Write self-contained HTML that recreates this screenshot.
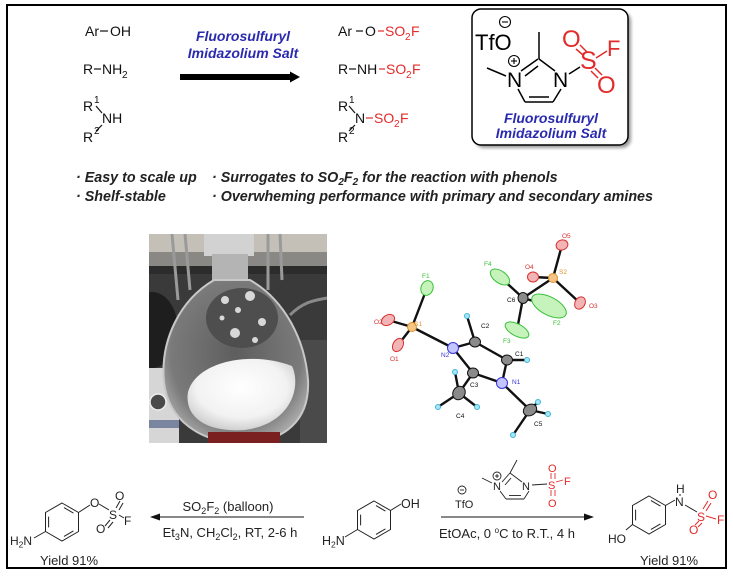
<!DOCTYPE html>
<html><head><meta charset="utf-8">
<style>
html,body{margin:0;padding:0;background:#fff;}
svg{display:block;}
text{font-family:"Liberation Sans",Arial,sans-serif;}
</style></head><body>
<svg width="733" height="577" viewBox="0 0 733 577" xmlns="http://www.w3.org/2000/svg">
<defs>
<clipPath id="ph"><rect x="149" y="234" width="178" height="209"/></clipPath>
<radialGradient id="pw" cx="0.5" cy="0.4" r="0.6"><stop offset="0" stop-color="#ffffff"/><stop offset="0.7" stop-color="#f2f2f2"/><stop offset="1" stop-color="#d0d0d0"/></radialGradient>
<radialGradient id="fl" cx="0.5" cy="0.45" r="0.6"><stop offset="0" stop-color="#5e5e5e"/><stop offset="0.75" stop-color="#7a7a7a"/><stop offset="1" stop-color="#b0b0b0"/></radialGradient>
<filter id="sh" x="-10%" y="-10%" width="120%" height="120%"><feGaussianBlur stdDeviation="1.5"/></filter>
</defs>

<!-- outer frame -->
<rect x="7" y="5" width="719" height="563" fill="#fff" stroke="#000" stroke-width="2"/>

<!-- ===== Top-left reactants ===== -->
<g font-size="14" fill="#111" stroke="none">
  <text x="85" y="36">Ar</text><text x="110" y="36">OH</text>
  <text x="83" y="74">R</text><text x="102" y="74">NH</text><text x="122" y="78" font-size="10">2</text>
  <text x="83" y="111">R</text><text x="94" y="103" font-size="10">1</text>
  <text x="102" y="123">NH</text>
  <text x="83" y="142">R</text><text x="94" y="134" font-size="10">2</text>
</g>
<g stroke="#111" stroke-width="1.2">
  <line x1="100" y1="31" x2="108" y2="31"/>
  <line x1="94" y1="69" x2="101" y2="69"/>
  <line x1="96" y1="106" x2="102" y2="113"/>
  <line x1="102" y1="125" x2="96" y2="131"/>
</g>

<!-- big arrow -->
<rect x="180" y="74" width="112" height="6" fill="#000"/>
<polygon points="290,71.5 300,77 290,82.5" fill="#000"/>
<g font-size="14" font-weight="bold" font-style="italic" fill="#2a2ab0" text-anchor="middle">
  <text x="243" y="41">Fluorosulfuryl</text>
  <text x="243" y="58">Imidazolium Salt</text>
</g>

<!-- ===== Products ===== -->
<g font-size="14" fill="#111">
  <text x="338" y="36">Ar</text><text x="365" y="36">O</text>
  <text x="385" y="36" fill="#e32b2b">SO</text><text x="405" y="40" font-size="10" fill="#e32b2b">2</text><text x="411" y="36" fill="#e32b2b">F</text>

  <text x="338" y="74">R</text><text x="357" y="74">NH</text>
  <text x="386" y="74" fill="#e32b2b">SO</text><text x="406" y="78" font-size="10" fill="#e32b2b">2</text><text x="412" y="74" fill="#e32b2b">F</text>

  <text x="338" y="111">R</text><text x="349" y="103" font-size="10">1</text>
  <text x="355" y="123">N</text>
  <text x="374" y="123" fill="#e32b2b">SO</text><text x="394" y="127" font-size="10" fill="#e32b2b">2</text><text x="400" y="123" fill="#e32b2b">F</text>
  <text x="338" y="142">R</text><text x="349" y="134" font-size="10">2</text>
</g>
<g stroke-width="1.2">
  <line x1="356" y1="31" x2="363" y2="31" stroke="#111"/>
  <line x1="378" y1="31" x2="384" y2="31" stroke="#e32b2b"/>
  <line x1="349" y1="69" x2="356" y2="69" stroke="#111"/>
  <line x1="379" y1="69" x2="385" y2="69" stroke="#e32b2b"/>
  <line x1="349" y1="106" x2="355" y2="113" stroke="#111"/>
  <line x1="355" y1="125" x2="349" y2="131" stroke="#111"/>
  <line x1="366" y1="118" x2="373" y2="118" stroke="#e32b2b"/>
</g>

<!-- ===== Reagent box ===== -->
<rect x="475" y="12" width="156" height="136" rx="9" fill="#9a9a9a" filter="url(#sh)"/>
<rect x="472" y="9" width="156" height="136" rx="9" fill="#fff" stroke="#000" stroke-width="1.5"/>
<text x="475" y="50" font-size="22" fill="#000">TfO</text>
<circle cx="505" cy="22" r="5.5" fill="none" stroke="#000" stroke-width="1.1"/>
<line x1="502" y1="22" x2="508" y2="22" stroke="#000" stroke-width="1.1"/>
<text x="507" y="87" font-size="21" fill="#000">N</text>
<circle cx="514" cy="61" r="5.5" fill="none" stroke="#000" stroke-width="1.1"/>
<line x1="511" y1="61" x2="517" y2="61" stroke="#000" stroke-width="1.1"/>
<line x1="514" y1="58" x2="514" y2="64" stroke="#000" stroke-width="1.1"/>
<text x="553" y="87" font-size="21" fill="#000">N</text>
<g stroke="#000" stroke-width="1.5" fill="none">
  <line x1="487" y1="68" x2="506" y2="76"/>
  <line x1="521" y1="71" x2="538" y2="59"/>
  <line x1="525" y1="76" x2="538" y2="66"/>
  <line x1="539" y1="59" x2="555" y2="71"/>
  <line x1="539" y1="59" x2="539" y2="32"/>
  <line x1="518" y1="89" x2="525" y2="102"/>
  <line x1="525" y1="102" x2="553" y2="102"/>
  <line x1="529" y1="97" x2="549" y2="97"/>
  <line x1="561" y1="89" x2="553" y2="102"/>
  <line x1="569" y1="74" x2="580" y2="67"/>
</g>
<g fill="#e32b2b" font-size="24">
  <text x="580" y="69" font-size="25">S</text>
  <text x="562" y="47">O</text>
  <text x="607" y="56" font-size="22">F</text>
  <text x="597" y="93">O</text>
</g>
<g stroke="#e32b2b" stroke-width="1.5">
  <line x1="580" y1="45" x2="587" y2="52"/>
  <line x1="576" y1="49" x2="583" y2="55"/>
  <line x1="596" y1="58" x2="607" y2="51"/>
  <line x1="591" y1="71" x2="598" y2="78"/>
  <line x1="595" y1="68" x2="602" y2="75"/>
</g>
<g font-size="14" font-weight="bold" font-style="italic" fill="#2a2ab0" text-anchor="middle">
  <text x="551" y="123">Fluorosulfuryl</text>
  <text x="551" y="138">Imidazolium Salt</text>
</g>

<!-- ===== Bullets ===== -->
<g font-size="14.3" font-weight="bold" font-style="italic" fill="#222">
  <text x="76" y="182">· Easy to scale up</text>
  <text x="212" y="182">· Surrogates to SO<tspan font-size="10" dy="3">2</tspan><tspan dy="-3">F</tspan><tspan font-size="10" dy="3">2</tspan><tspan dy="-3">  for the reaction with phenols</tspan></text>
  <text x="76" y="201">· Shelf-stable</text>
  <text x="212" y="201">· Overwheming performance with primary and secondary amines</text>
</g>

<!-- ===== Photo ===== -->
<g clip-path="url(#ph)">
  <rect x="149" y="234" width="178" height="209" fill="#3a3a3a"/>
  <rect x="149" y="234" width="178" height="18" fill="#c4c0b8"/>
  <rect x="149" y="252" width="178" height="14" fill="#8a8884"/>
  <rect x="149" y="266" width="178" height="8" fill="#2c2c2c"/>
  <g stroke="#9a9a9a" stroke-width="3">
    <line x1="172" y1="234" x2="178" y2="300"/>
    <line x1="185" y1="234" x2="190" y2="290"/>
    <line x1="268" y1="234" x2="268" y2="290"/>
    <line x1="280" y1="234" x2="282" y2="280"/>
  </g>
  <path d="M290 315 C305 300 318 300 327 298" stroke="#8a8a8a" stroke-width="3" fill="none"/>
  <ellipse cx="152" cy="330" rx="26" ry="38" fill="#1e1e1e"/>
  <rect x="149" y="368" width="30" height="75" fill="#d6d6d6"/>
  <circle cx="158" cy="402" r="8" fill="#4a4a4a" stroke="#eee" stroke-width="1.5"/>
  <rect x="149" y="420" width="30" height="8" fill="#7a86a0"/>
  <rect x="300" y="340" width="27" height="103" fill="#4a4a4a"/>
  <!-- flask neck -->
  <rect x="204" y="234" width="50" height="22" fill="#d2d2d2"/>
  <rect x="212" y="254" width="36" height="28" fill="#b4b4b4"/>
  <!-- flask body -->
  <path d="M214 280 C180 300 160 340 164 382 C168 420 200 442 240 443 C285 443 310 420 308 380 C305 340 285 300 250 280 Z" fill="url(#fl)" stroke="#c8c8c8" stroke-width="2"/>
  <ellipse cx="242" cy="318" rx="36" ry="30" fill="#4e4e4e"/>
  <g fill="#d8d8d8">
    <circle cx="225" cy="300" r="4"/><circle cx="250" cy="296" r="5"/><circle cx="238" cy="310" r="3"/>
    <circle cx="262" cy="322" r="4"/><circle cx="235" cy="333" r="5"/><circle cx="222" cy="318" r="2.5"/>
    <circle cx="255" cy="340" r="3"/>
  </g>
  <path d="M188 392 C196 362 250 350 292 366 C302 388 290 424 245 430 C205 433 184 416 188 392 Z" fill="url(#pw)"/>
  <rect x="208" y="432" width="72" height="11" fill="#7a2020"/>
</g>

<!-- ===== Crystal structure ===== -->
<g stroke="#111" stroke-width="2.4" stroke-linecap="round">
  <line x1="553" y1="278" x2="562" y2="245"/>
  <line x1="553" y1="278" x2="533" y2="277"/>
  <line x1="553" y1="278" x2="580" y2="303"/>
  <line x1="553" y1="278" x2="523" y2="298"/>
  <line x1="523" y1="298" x2="500" y2="277"/>
  <line x1="523" y1="298" x2="547" y2="305"/>
  <line x1="523" y1="298" x2="517" y2="330"/>
  <line x1="412" y1="327" x2="427" y2="288"/>
  <line x1="412" y1="327" x2="388" y2="320"/>
  <line x1="412" y1="327" x2="398" y2="345"/>
  <line x1="412" y1="327" x2="453" y2="348"/>
  <line x1="453" y1="348" x2="475" y2="342"/>
  <line x1="475" y1="342" x2="507" y2="360"/>
  <line x1="507" y1="360" x2="502" y2="383"/>
  <line x1="502" y1="383" x2="473" y2="373"/>
  <line x1="473" y1="373" x2="453" y2="348"/>
  <line x1="473" y1="373" x2="459" y2="393"/>
  <line x1="502" y1="383" x2="530" y2="410"/>
  <line x1="475" y1="342" x2="467" y2="316"/>
  <line x1="507" y1="360" x2="527" y2="360"/>
  <line x1="459" y1="393" x2="455" y2="372"/>
  <line x1="459" y1="393" x2="438" y2="407"/>
  <line x1="459" y1="393" x2="477" y2="407"/>
  <line x1="530" y1="410" x2="538" y2="402"/>
  <line x1="530" y1="410" x2="548" y2="414"/>
  <line x1="530" y1="410" x2="513" y2="435"/>
</g>
<g stroke-width="1">
  <!-- O -->
  <g fill="#f2b4b4" stroke="#d83030">
    <ellipse cx="562" cy="245" rx="6" ry="5" transform="rotate(-20 562 245)"/>
    <ellipse cx="533" cy="277" rx="5.5" ry="5"/>
    <ellipse cx="580" cy="303" rx="5" ry="6.5" transform="rotate(30 580 303)"/>
    <ellipse cx="388" cy="320" rx="7" ry="5" transform="rotate(-30 388 320)"/>
    <ellipse cx="398" cy="345" rx="5" ry="7" transform="rotate(30 398 345)"/>
  </g>
  <!-- F -->
  <g fill="#c6f2bc" stroke="#38c038">
    <ellipse cx="500" cy="277" rx="11" ry="6" transform="rotate(35 500 277)"/>
    <ellipse cx="549" cy="306" rx="19" ry="9" transform="rotate(28 549 306)"/>
    <ellipse cx="517" cy="330" rx="13" ry="6" transform="rotate(28 517 330)"/>
    <ellipse cx="427" cy="288" rx="6" ry="7.5" transform="rotate(20 427 288)"/>
  </g>
  <!-- S -->
  <g fill="#f5c585" stroke="#e0902a">
    <circle cx="553" cy="278" r="4.5"/>
    <circle cx="412" cy="327" r="4.5"/>
  </g>
  <!-- N -->
  <g fill="#c4c4ff" stroke="#3434d8">
    <circle cx="453" cy="348" r="5.5"/>
    <circle cx="502" cy="383" r="5.5"/>
  </g>
  <!-- C -->
  <g fill="#8a8a8a" stroke="#111">
    <ellipse cx="523" cy="298" rx="5" ry="5.5"/>
    <ellipse cx="475" cy="342" rx="5.5" ry="5"/>
    <ellipse cx="507" cy="360" rx="5.5" ry="5"/>
    <ellipse cx="473" cy="373" rx="5.5" ry="5"/>
    <ellipse cx="459" cy="393" rx="6" ry="7" transform="rotate(30 459 393)"/>
    <ellipse cx="530" cy="410" rx="7" ry="5.5" transform="rotate(-30 530 410)"/>
  </g>
  <!-- H -->
  <g fill="#a6e6f6" stroke="#3fb4d8">
    <circle cx="467" cy="316" r="2.5"/><circle cx="527" cy="360" r="2.5"/>
    <circle cx="455" cy="372" r="2.5"/><circle cx="438" cy="407" r="2.5"/><circle cx="477" cy="407" r="2.5"/>
    <circle cx="538" cy="402" r="2.5"/><circle cx="548" cy="414" r="2.5"/><circle cx="513" cy="435" r="2.5"/>
  </g>
</g>
<g font-size="6.5">
  <text x="562" y="238" fill="#d83030">O5</text>
  <text x="559" y="274" fill="#e0902a">S2</text>
  <text x="525" y="269" fill="#d83030">O4</text>
  <text x="589" y="308" fill="#d83030">O3</text>
  <text x="484" y="266" fill="#38c038">F4</text>
  <text x="507" y="302" fill="#111">C6</text>
  <text x="553" y="325" fill="#38c038">F2</text>
  <text x="503" y="343" fill="#38c038">F3</text>
  <text x="422" y="278" fill="#38c038">F1</text>
  <text x="414" y="326" fill="#e0902a">S1</text>
  <text x="374" y="324" fill="#d83030">O2</text>
  <text x="390" y="361" fill="#d83030">O1</text>
  <text x="441" y="357" fill="#3434d8">N2</text>
  <text x="481" y="328" fill="#111">C2</text>
  <text x="515" y="356" fill="#111">C1</text>
  <text x="512" y="384" fill="#3434d8">N1</text>
  <text x="470" y="387" fill="#111">C3</text>
  <text x="456" y="418" fill="#111">C4</text>
  <text x="534" y="426" fill="#111">C5</text>
</g>

<!-- ===== Bottom scheme ===== -->
<!-- left product -->
<g stroke="#222" stroke-width="1" fill="none">
  <polygon points="62,503 78.5,512.5 78.5,531.5 62,541 45.5,531.5 45.5,512.5"/>
  <line x1="64" y1="507.6" x2="73.4" y2="513.1"/>
  <line x1="73.4" y1="530.9" x2="64" y2="536.4"/>
  <line x1="48.6" y1="527.4" x2="48.6" y2="516.6"/>
  <line x1="78.5" y1="512.5" x2="90" y2="505"/>
  <line x1="99" y1="504" x2="109" y2="510"/>
  <line x1="116" y1="508" x2="120" y2="501"/>
  <line x1="119" y1="510" x2="123" y2="503"/>
  <line x1="119" y1="515" x2="124" y2="518"/>
  <line x1="110" y1="520" x2="105" y2="526"/>
  <line x1="113" y1="522" x2="108" y2="528"/>
  <line x1="45.5" y1="531.5" x2="34" y2="538"/>
</g>
<g font-size="12" fill="#222">
  <text x="90" y="507">O</text>
  <text x="109" y="519">S</text>
  <text x="115" y="500">O</text>
  <text x="124" y="525">F</text>
  <text x="96" y="533">O</text>
  <text x="10" y="545">H<tspan font-size="8.5" dy="2.5">2</tspan><tspan dy="-2.5">N</tspan></text>
</g>
<text x="40" y="565" font-size="13" fill="#222">Yield 91%</text>

<!-- left arrow -->
<line x1="304" y1="517" x2="156" y2="517" stroke="#111" stroke-width="1"/>
<polygon points="150,517 160,513.5 160,520.5" fill="#111"/>
<g font-size="13" fill="#222" text-anchor="middle">
  <text x="228" y="511">SO<tspan font-size="9" dy="3">2</tspan><tspan dy="-3">F</tspan><tspan font-size="9" dy="3">2</tspan><tspan dy="-3"> (balloon)</tspan></text>
  <text x="230" y="537">Et<tspan font-size="9" dy="3">3</tspan><tspan dy="-3">N, CH</tspan><tspan font-size="9" dy="3">2</tspan><tspan dy="-3">Cl</tspan><tspan font-size="9" dy="3">2</tspan><tspan dy="-3">, RT, 2-6 h</tspan></text>
</g>

<!-- center reactant -->
<g stroke="#222" stroke-width="1" fill="none">
  <polygon points="374,501 390.5,510.5 390.5,529.5 374,539 357.5,529.5 357.5,510.5"/>
  <line x1="376" y1="505.6" x2="385.4" y2="511.1"/>
  <line x1="385.4" y1="528.9" x2="376" y2="534.4"/>
  <line x1="360.6" y1="525.4" x2="360.6" y2="514.6"/>
  <line x1="390.5" y1="510.5" x2="401" y2="504"/>
  <line x1="357.5" y1="529.5" x2="345" y2="537"/>
</g>
<g font-size="12.5" fill="#222">
  <text x="401" y="508">OH</text>
  <text x="322" y="545">H<tspan font-size="8.5" dy="2.5">2</tspan><tspan dy="-2.5">N</tspan></text>
</g>

<!-- right arrow -->
<line x1="441" y1="517" x2="587" y2="517" stroke="#111" stroke-width="1"/>
<polygon points="594,517 584,513.5 584,520.5" fill="#111"/>
<text x="507" y="538" font-size="13" fill="#222" text-anchor="middle">EtOAc, 0 <tspan font-size="8" dy="-5">o</tspan><tspan dy="5">C to R.T., 4 h</tspan></text>

<!-- reagent small -->
<g font-size="11" fill="#222">
  <text x="455" y="508">TfO</text>
  <text x="493" y="490">N</text>
  <text x="522" y="490">N</text>
</g>
<g stroke="#222" stroke-width="0.9" fill="none">
  <circle cx="462" cy="490" r="4"/><line x1="460" y1="490" x2="464" y2="490"/>
  <circle cx="497" cy="476" r="4"/><line x1="495" y1="476" x2="499" y2="476"/><line x1="497" y1="474" x2="497" y2="478"/>
  <line x1="482" y1="478" x2="492" y2="483"/>
  <line x1="502" y1="482" x2="510" y2="473"/>
  <line x1="505" y1="485" x2="511" y2="478"/>
  <line x1="510" y1="473" x2="517" y2="460"/>
  <line x1="510" y1="473" x2="522" y2="482"/>
  <line x1="500" y1="491" x2="506" y2="499"/>
  <line x1="506" y1="499" x2="524" y2="499"/>
  <line x1="509" y1="495.5" x2="521" y2="495.5"/>
  <line x1="524" y1="499" x2="529" y2="491"/>
  <line x1="532" y1="485" x2="547" y2="484"/>
</g>
<g font-size="11" fill="#e32b2b">
  <text x="548" y="489">S</text>
  <text x="548" y="472">O</text>
  <text x="548" y="507">O</text>
  <text x="564" y="485">F</text>
</g>
<g stroke="#e32b2b" stroke-width="0.9">
  <line x1="551" y1="473" x2="551" y2="479"/><line x1="555" y1="473" x2="555" y2="479"/>
  <line x1="551" y1="490" x2="551" y2="496"/><line x1="555" y1="490" x2="555" y2="496"/>
  <line x1="556" y1="482" x2="563" y2="480"/>
</g>

<!-- right product -->
<g stroke="#222" stroke-width="1" fill="none">
  <polygon points="649,496 665.5,505.5 665.5,524.5 649,534 632.5,524.5 632.5,505.5"/>
  <line x1="651" y1="500.6" x2="660.4" y2="506.1"/>
  <line x1="660.4" y1="523.9" x2="651" y2="529.4"/>
  <line x1="635.6" y1="520.4" x2="635.6" y2="509.6"/>
  <line x1="665.5" y1="505.5" x2="675" y2="500"/>
  <line x1="632.5" y1="524.5" x2="626" y2="530"/>
  <line x1="680" y1="494" x2="680" y2="496"/>
  <line x1="685" y1="505" x2="697" y2="512"/>
</g>
<g font-size="12" fill="#222">
  <text x="626" y="543" text-anchor="end">HO</text>
  <text x="675" y="506">N</text>
  <text x="676" y="493">H</text>
</g>
<g font-size="12" fill="#e32b2b">
  <text x="697" y="521">S</text>
  <text x="708" y="499">O</text>
  <text x="717" y="524">F</text>
  <text x="689" y="534">O</text>
</g>
<g stroke="#e32b2b" stroke-width="1">
  <line x1="703" y1="509" x2="708" y2="501"/><line x1="706" y1="511" x2="711" y2="503"/>
  <line x1="706" y1="516" x2="716" y2="519"/>
  <line x1="699" y1="521" x2="695" y2="525"/><line x1="702" y1="523" x2="698" y2="527"/>
</g>
<text x="640" y="565" font-size="13" fill="#222">Yield 91%</text>
</svg>
</body></html>
